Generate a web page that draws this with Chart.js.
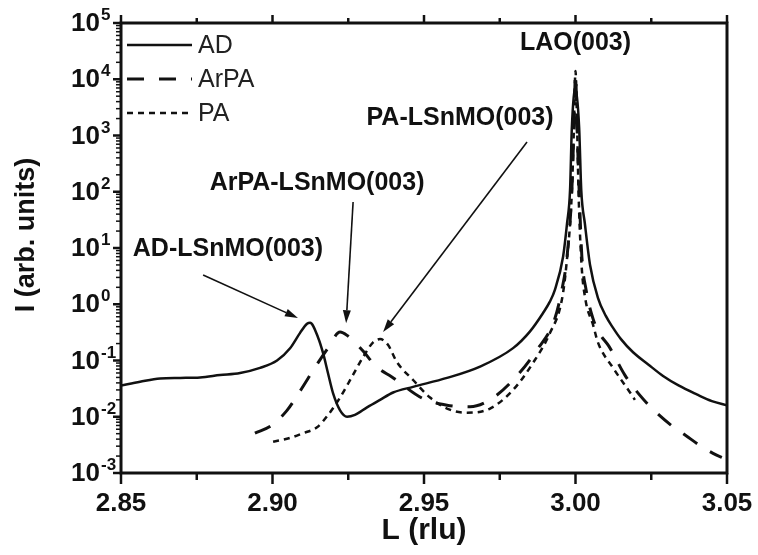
<!DOCTYPE html>
<html>
<head>
<meta charset="utf-8">
<script src="https://cdn.jsdelivr.net/npm/chart.js@4/dist/chart.umd.min.js"></script>
<style>
body { margin: 0; background: #fff; }
#wrap { width: 758px; height: 555px; position: relative; }
</style>
</head>
<body>
<div id="wrap"><canvas id="xrd"></canvas></div>
<script>
// L scans around the (003) reflections, intensity in arb. units
var adL = [2.850, 2.8563, 2.8629, 2.8695, 2.8761, 2.8827, 2.8893, 2.8959, 2.9015, 2.9058,
           2.9091, 2.9114, 2.9124, 2.9150, 2.9167, 2.9183, 2.9200, 2.9223, 2.9246, 2.9272,
           2.9312, 2.9355, 2.9398, 2.9464, 2.9576, 2.9685, 2.9794, 2.9850, 2.9893, 2.9915,
           2.9932, 2.9959, 2.9972, 2.9982, 2.9988, 3.0000, 3.0012, 3.0019, 3.0031, 3.0048,
           3.0074, 3.0100, 3.0124, 3.0150, 3.0190, 3.0240, 3.0289, 3.0340, 3.0400, 3.0450,
           3.0500];
var adI = [0.036, 0.042, 0.048, 0.049, 0.050, 0.055, 0.060, 0.074, 0.10, 0.165,
           0.31, 0.45, 0.47, 0.26, 0.135, 0.060, 0.026, 0.013, 0.010, 0.0108,
           0.0147, 0.020, 0.027, 0.034, 0.049, 0.078, 0.166, 0.33, 0.70, 1.1,
           1.8, 7, 27, 107, 1400, 7000, 1400, 107, 27, 5,
           1.3, 0.62, 0.38, 0.24, 0.14, 0.085, 0.053, 0.036, 0.025, 0.019,
           0.016];

var arpaL = [2.8942, 2.8998, 2.9048, 2.9084, 2.9150, 2.9183, 2.9223, 2.9246, 2.9295, 2.9345,
             2.9394, 2.9497, 2.9576, 2.9652, 2.9718, 2.9794, 2.9873, 2.9930, 2.9955, 2.9972,
             2.9988, 2.9994, 3.0000, 3.0006, 3.0012, 3.0021, 3.0035, 3.0058, 3.0080, 3.0110,
             3.0163, 3.0210, 3.0259, 3.0315, 3.0365, 3.0414, 3.0464, 3.0483];
var arpaI = [0.0051, 0.0071, 0.013, 0.025, 0.091, 0.166, 0.32, 0.28, 0.155, 0.076,
             0.051, 0.021, 0.016, 0.015, 0.020, 0.045, 0.155, 0.52, 1.8, 7,
             107, 1000, 12000, 1000, 107, 7, 1.8, 0.55, 0.30, 0.18,
             0.055, 0.025, 0.013, 0.0071, 0.0046, 0.0030, 0.0021, 0.0019];

var paL = [2.9002, 2.9058, 2.9101, 2.9147, 2.9183, 2.9223, 2.9262, 2.9299, 2.9332, 2.9355,
           2.9381, 2.9411, 2.9464, 2.9520, 2.9576, 2.9642, 2.9718, 2.9794, 2.9860, 2.9916,
           2.9955, 2.9970, 2.9988, 2.9994, 3.0000, 3.0006, 3.0010, 3.0020, 3.0033, 3.0058,
           3.0074, 3.0124, 3.0180, 3.0196];
var paI = [0.0036, 0.0042, 0.0051, 0.0065, 0.0107, 0.022, 0.051, 0.115, 0.21, 0.24,
           0.19, 0.093, 0.045, 0.022, 0.014, 0.0118, 0.014, 0.030, 0.091, 0.31,
           1.2, 5, 100, 1000, 14000, 1000, 100, 5, 1.2, 0.43,
           0.21, 0.074, 0.027, 0.020];

var xTicks = [2.85, 2.90, 2.95, 3.00, 3.05];
var xMinorTicks = [2.875, 2.925, 2.975, 3.025];
var yExps = [-3, -2, -1, 0, 1, 2, 3, 4, 5];

// peak labels and arrows, placed in data coordinates
var labels = [
    { text: 'LAO(003)', L: 3.000, I: 4.4e4 },
    { text: 'PA-LSnMO(003)', L: 2.9619, I: 2050 },
    { text: 'ArPA-LSnMO(003)', L: 2.9147, I: 143 },
    { text: 'AD-LSnMO(003)', L: 2.8853, I: 9.6 }
];
var arrows = [
    { from: [2.8771, 3.3], to: [2.9084, 0.57] },
    { from: [2.9266, 65.8], to: [2.9243, 0.46] },
    { from: [2.9840, 766], to: [2.9365, 0.32] }
];

var FONT = '"Liberation Sans", Arial, sans-serif';
var INK = '#111';

function points(xs, ys)
{
    var out = [];
    for (var i = 0; i < xs.length; i++) {
        out.push({ x: xs[i], y: ys[i] });
    }
    return out;
}

function line(ctx, x1, y1, x2, y2)
{
    ctx.beginPath();
    ctx.moveTo(x1, y1);
    ctx.lineTo(x2, y2);
    ctx.stroke();
}

function drawArrow(ctx, x1, y1, x2, y2)
{
    var ang = Math.atan2(y2 - y1, x2 - x1);
    var head = 13, half = 4;
    var bx = x2 - head * Math.cos(ang), by = y2 - head * Math.sin(ang);
    line(ctx, x1, y1, bx, by);
    ctx.beginPath();
    ctx.moveTo(x2, y2);
    ctx.lineTo(bx + half * Math.sin(ang), by - half * Math.cos(ang));
    ctx.lineTo(bx - half * Math.sin(ang), by + half * Math.cos(ang));
    ctx.closePath();
    ctx.fill();
}

var axesPlugin = {
    id: 'axesDecor',
    afterDraw: function(chart) {
        var ctx = chart.ctx;
        var a = chart.chartArea;
        var xs = chart.scales.x, ys = chart.scales.y;
        ctx.save();
        ctx.strokeStyle = INK;
        ctx.fillStyle = INK;

        // frame
        ctx.lineWidth = 3;
        ctx.strokeRect(a.left, a.top, a.right - a.left, a.bottom - a.top);

        // x ticks on bottom and top
        ctx.lineWidth = 2.5;
        xTicks.forEach(function(v) {
            var px = xs.getPixelForValue(v);
            line(ctx, px, a.bottom, px, a.bottom + 11);
            line(ctx, px, a.top, px, a.top - 8);
        });
        xMinorTicks.forEach(function(v) {
            var px = xs.getPixelForValue(v);
            line(ctx, px, a.bottom, px, a.bottom + 7);
            line(ctx, px, a.top, px, a.top - 5);
        });

        // y ticks, decade labels with exponents
        for (var i = 0; i < yExps.length; i++) {
            var e = yExps[i];
            var py = ys.getPixelForValue(Math.pow(10, e));
            ctx.lineWidth = 2.5;
            line(ctx, a.left - 8, py, a.left, py);
            if (i < yExps.length - 1) {
                ctx.lineWidth = 1.5;
                for (var m = 2; m < 10; m++) {
                    var pm = ys.getPixelForValue(m * Math.pow(10, e));
                    line(ctx, a.left - 5, pm, a.left, pm);
                }
            }
            ctx.font = 'bold 26px ' + FONT;
            ctx.textAlign = 'right';
            ctx.textBaseline = 'middle';
            ctx.fillText('10', a.left - 21, py + 1);
            ctx.font = 'bold 17px ' + FONT;
            ctx.textAlign = 'left';
            ctx.textBaseline = 'alphabetic';
            ctx.fillText(String(e), a.left - 20, py - 3);
        }

        // y title
        ctx.save();
        ctx.translate(27, 235);
        ctx.rotate(-Math.PI / 2);
        ctx.font = 'bold 27px ' + FONT;
        ctx.textAlign = 'center';
        ctx.textBaseline = 'middle';
        ctx.fillText('I (arb. units)', 0, 0);
        ctx.restore();

        // legend
        var ds = chart.data.datasets;
        for (var k = 0; k < ds.length; k++) {
            var ly = a.top + 22 + k * 34;
            ctx.save();
            ctx.lineWidth = ds[k].borderWidth;
            ctx.setLineDash(ds[k].borderDash || []);
            line(ctx, a.left + 6, ly, a.left + 71, ly);
            ctx.restore();
            ctx.font = '25px ' + FONT;
            ctx.fillStyle = '#222';
            ctx.textAlign = 'left';
            ctx.textBaseline = 'middle';
            ctx.fillText(ds[k].label, a.left + 77, ly + 1);
        }

        // peak labels and arrows
        ctx.fillStyle = INK;
        ctx.font = 'bold 25px ' + FONT;
        ctx.textAlign = 'center';
        ctx.textBaseline = 'middle';
        labels.forEach(function(t) {
            ctx.fillText(t.text, xs.getPixelForValue(t.L), ys.getPixelForValue(t.I));
        });
        ctx.lineWidth = 1.6;
        arrows.forEach(function(r) {
            drawArrow(ctx,
                xs.getPixelForValue(r.from[0]), ys.getPixelForValue(r.from[1]),
                xs.getPixelForValue(r.to[0]), ys.getPixelForValue(r.to[1]));
        });
        ctx.restore();
    }
};

function renderChart()
{
    var ctx = document.getElementById('xrd').getContext('2d');
    var base = {
        borderColor: INK,
        pointRadius: 0,
        fill: false,
        cubicInterpolationMode: 'monotone'
    };
    new Chart(ctx, {
        type: 'line',
        data: {
            datasets: [
                Object.assign({ label: 'AD', data: points(adL, adI), borderWidth: 2.5 }, base),
                Object.assign({ label: 'ArPA', data: points(arpaL, arpaI), borderWidth: 3, borderDash: [17, 15] }, base),
                Object.assign({ label: 'PA', data: points(paL, paI), borderWidth: 2.5, borderDash: [6, 5] }, base)
            ]
        },
        options: {
            responsive: true,
            maintainAspectRatio: false,
            animation: false,
            layout: { padding: { left: 0, right: 31, top: 23, bottom: 0 } },
            plugins: { legend: { display: false }, tooltip: { enabled: false } },
            scales: {
                x: {
                    type: 'linear',
                    position: 'bottom',
                    min: 2.85,
                    max: 3.05,
                    afterBuildTicks: function(s) {
                        s.ticks = xTicks.map(function(v) { return { value: v }; });
                    },
                    afterFit: function(s) { s.height = 82; },
                    grid: { display: false, drawTicks: true, tickLength: 11 },
                    border: { display: false },
                    ticks: {
                        autoSkip: false,
                        maxRotation: 0,
                        padding: 4,
                        color: INK,
                        font: { family: FONT, size: 26, weight: 'bold' },
                        callback: function(v) { return Number(v).toFixed(2); }
                    },
                    title: {
                        display: true,
                        text: 'L (rlu)',
                        color: INK,
                        font: { family: FONT, size: 30, weight: 'bold' },
                        padding: { top: 0, bottom: 6 }
                    }
                },
                y: {
                    type: 'logarithmic',
                    min: 1e-3,
                    max: 1e5,
                    afterFit: function(s) { s.width = 121; },
                    grid: { display: false },
                    border: { display: false },
                    ticks: { display: false }
                }
            }
        },
        plugins: [axesPlugin]
    });
}

renderChart();
</script>
</body>
</html>
